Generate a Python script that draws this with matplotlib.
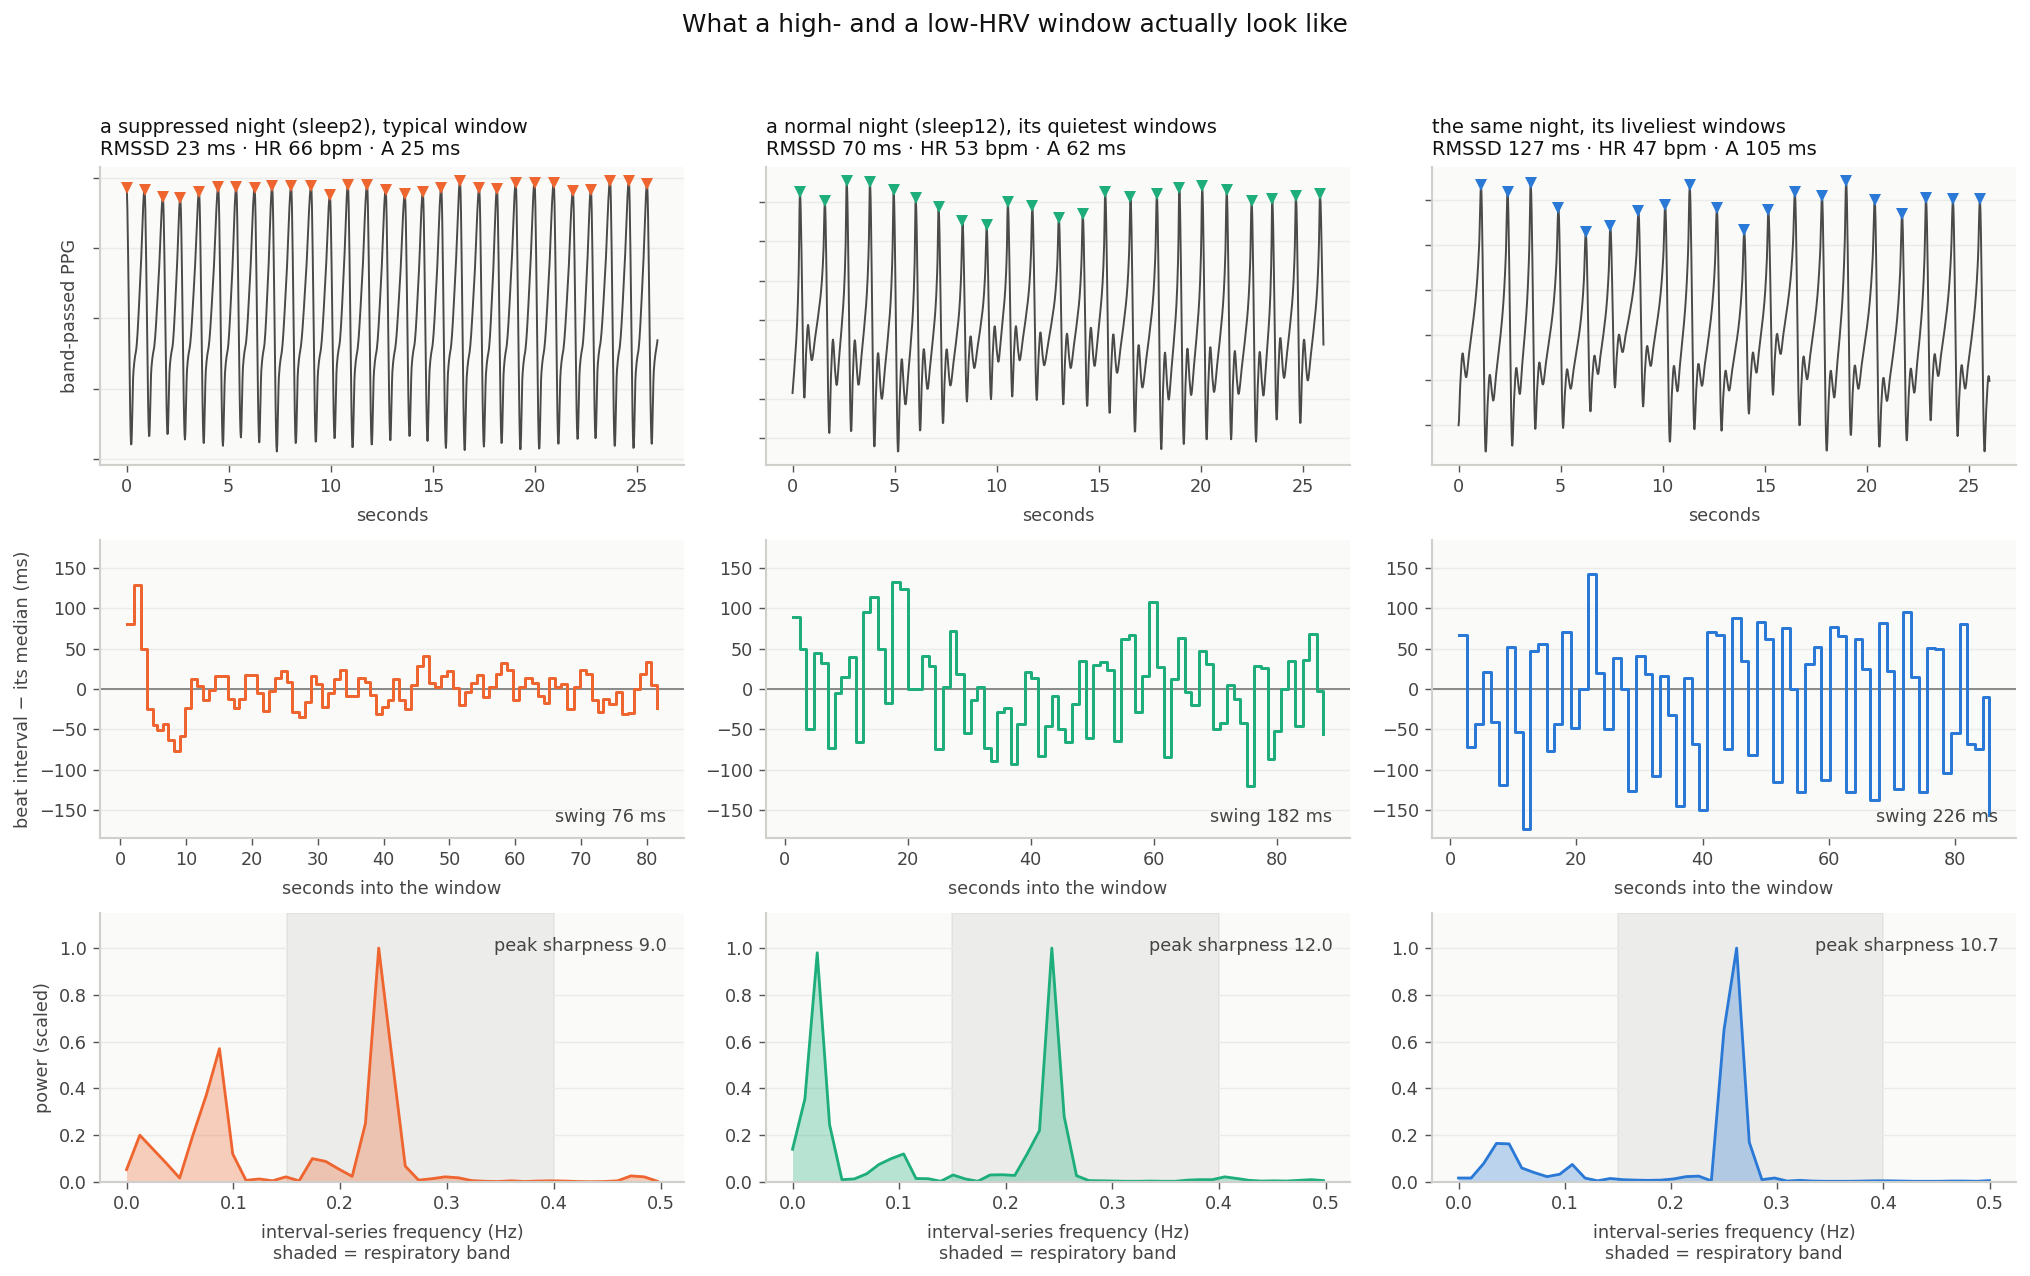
import numpy as np
import matplotlib
matplotlib.use("Agg")
import matplotlib.pyplot as plt
from matplotlib.ticker import MultipleLocator

# ---------------- data ----------------
colors = ["#ef6530", "#1dae7b", "#2a79d6"]
titles = [
    "a suppressed night (sleep2), typical window\nRMSSD 23 ms \u00b7 HR 66 bpm \u00b7 A 25 ms",
    "a normal night (sleep12), its quietest windows\nRMSSD 70 ms \u00b7 HR 53 bpm \u00b7 A 62 ms",
    "the same night, its liveliest windows\nRMSSD 127 ms \u00b7 HR 47 bpm \u00b7 A 105 ms",
]
swing_labels = ["swing 76 ms", "swing 182 ms", "swing 226 ms"]
sharp_labels = ["peak sharpness 9.0", "peak sharpness 12.0", "peak sharpness 10.7"]

# PPG window: detected peaks (time s, height), trough after each peak
ppg1_peak_t = [0.0, 0.88, 1.78, 2.63, 3.55, 4.49, 5.37, 6.27, 7.13, 8.06, 9.04, 9.96, 10.84, 11.78,
               12.69, 13.63, 14.51, 15.41, 16.33, 17.27, 18.14, 19.06, 19.98, 20.92, 21.86, 22.74,
               23.68, 24.60, 25.49]
ppg1_peak_h = [1.86, 1.83, 1.72, 1.71, 1.80, 1.87, 1.87, 1.85, 1.88, 1.88, 1.88, 1.75, 1.90, 1.90,
               1.83, 1.77, 1.80, 1.86, 1.95, 1.85, 1.84, 1.92, 1.93, 1.92, 1.81, 1.83, 1.96, 1.95, 1.91]
ppg1_trough = [-1.81, -1.69, -1.66, -1.72, -1.77, -1.81, -1.69, -1.76, -1.89, -1.79, -1.77, -1.72,
               -1.85, -1.81, -1.73, -1.67, -1.74, -1.84, -1.87, -1.82, -1.79, -1.88, -1.87, -1.80,
               -1.73, -1.72, -1.83, -1.86, -1.78]

ppg2_peak_t = [0.36, 1.58, 2.65, 3.79, 4.95, 6.03, 7.15, 8.32, 9.50, 10.54, 11.74, 13.04, 14.21,
               15.31, 16.55, 17.84, 18.94, 20.06, 21.26, 22.48, 23.49, 24.65, 25.83]
ppg2_peak_h = [3.26, 3.03, 3.55, 3.52, 3.30, 3.10, 2.87, 2.53, 2.41, 3.00, 2.89, 2.61, 2.71, 3.27,
               3.12, 3.20, 3.35, 3.40, 3.30, 3.04, 3.08, 3.16, 3.20]
ppg2_trough = [-1.97, -2.87, -2.86, -3.25, -3.38, -2.84, -2.65, -2.07, -2.01, -1.94, -2.03, -2.14,
               -2.21, -2.39, -2.87, -3.28, -3.15, -3.03, -3.03, -3.09, -2.56, -2.65, -1.20]

ppg3_peak_t = [1.10, 2.40, 3.53, 4.89, 6.23, 7.43, 8.81, 10.12, 11.32, 12.65, 13.99, 15.17, 16.47,
               17.80, 18.98, 20.38, 21.72, 22.89, 24.21, 25.53]
ppg3_peak_h = [3.33, 3.18, 3.39, 2.84, 2.29, 2.44, 2.76, 2.90, 3.33, 2.82, 2.33, 2.79, 3.19, 3.10,
               3.44, 3.01, 2.70, 3.06, 3.02, 3.02]
ppg3_trough = [-2.61, -2.48, -2.08, -2.06, -1.69, -1.16, -1.58, -2.39, -2.11, -2.12, -1.74, -1.32,
               -2.00, -2.59, -2.24, -2.50, -2.36, -1.89, -2.24, -2.58]

# beats just outside the 26 s window (lead-in peak t, h, trough; trailing peak t, h)
ppg_lead = [(-0.91, 1.85, -1.80), (-0.78, 3.20, -4.60), (-0.23, 3.20, -2.00)]
ppg_tail = [(26.60, 1.90), (26.97, 3.20), (26.83, 3.00)]
ppg_end = 26.0

# beat interval minus median (ms), at beat times (s)
ibi1_t = [0.95, 2.1, 3.1, 4.0, 4.9, 5.6, 6.55, 7.3, 8.2, 9.05, 9.9, 10.7, 11.7, 12.6, 13.5, 14.4,
          15.3, 16.3, 17.2, 18.1, 19.0, 19.9, 20.8, 21.7, 22.6, 23.5, 24.4, 25.3, 26.1, 27.1, 28.0,
          28.9, 29.8, 30.7, 31.6, 32.5, 33.4, 34.3, 35.2, 36.1, 37.1, 38.0, 38.8, 39.7, 40.6, 41.5,
          42.4, 43.3, 44.2, 45.1, 46.0, 46.9, 47.8, 48.7, 49.7, 50.6, 51.5, 52.4, 53.3, 54.2, 55.1,
          56.0, 57.0, 57.9, 58.8, 59.7, 60.6, 61.5, 62.5, 63.4, 64.3, 65.2, 66.1, 67.0, 67.9, 68.9,
          69.8, 70.7, 71.6, 72.5, 73.4, 74.3, 75.3, 76.2, 77.1, 78.0, 78.9, 79.8, 80.6, 81.6]
ibi1_v = [80, 128, 49, -25, -45, -51, -43, -63, -77, -58, -24, 12, 4, -14, -1, 16,
          16, -12, -24, -12, 17, 17, -5, -27, -3, 14, 22, 9, -28, -35, -16,
          16, 6, -22, -5, 12, 24, -9, -9, 13, 9, -8, -31, -22, -13, 12,
          -13, -25, 5, 28, 41, 7, 2, 16, 22, 1, -20, -4, 8, 17, -10,
          2, 19, 32, 24, -14, 3, 14, 7, -9, -17, 14, 3, 6, -25, 2,
          23, 18, -13, -28, -12, -18, -4, -31, -30, 0, 19, 33, 5, -23]

ibi2_t = [1.25, 2.4, 3.5, 4.7, 5.8, 7.0, 8.1, 9.2, 10.4, 11.5, 12.7, 13.9, 15.1, 16.25, 17.5,
          18.75, 20.0, 21.15, 22.3, 23.4, 24.5, 25.7, 26.8, 27.9, 29.1, 30.3, 31.3, 32.4, 33.5,
          34.5, 35.6, 36.7, 37.8, 39.0, 40.1, 41.2, 42.3, 43.4, 44.4, 45.6, 46.7, 47.8, 49.0,
          50.1, 51.25, 52.4, 53.5, 54.65, 55.9, 56.9, 58.1, 59.3, 60.5, 61.7, 62.8, 63.9, 65.0,
          66.1, 67.3, 68.5, 69.6, 70.7, 71.9, 73.0, 74.1, 75.1, 76.25, 77.4, 78.5, 79.6, 80.7,
          81.9, 83.0, 84.2, 85.3, 86.5, 87.6]
ibi2_v = [89, 49, -50, 44, 32, -73, -5, 15, 39, -65, 95, 114, 49, -17, 132,
          123, 0, 0, 41, 29, -74, 2, 72, 18, -54, -14, 2, -73, -89,
          -29, -23, -92, -43, 21, 13, -83, -46, -9, -50, -65, -18, 34, -61,
          30, 33, 24, -64, 62, 67, -29, 16, 107, 27, -84, 12, 63, -4,
          -20, 47, 31, -49, -42, 5, -12, -42, -120, 28, 26, -86, -52, 0,
          34, -46, 36, 68, -2, -56]

ibi3_t = [1.33, 2.67, 3.87, 5.2, 6.47, 7.73, 9.0, 10.27, 11.47, 12.67, 14.0, 15.33, 16.47, 17.8,
          19.13, 20.47, 21.8, 23.13, 24.4, 25.87, 27.07, 28.2, 29.47, 30.87, 32.0, 33.27, 34.47,
          35.8, 37.07, 38.33, 39.47, 40.73, 42.07, 43.4, 44.67, 46.07, 47.27, 48.6, 49.93, 51.2,
          52.53, 53.8, 55.0, 56.2, 57.6, 58.73, 60.13, 61.53, 62.67, 64.13, 65.33, 66.53, 67.93,
          69.2, 70.4, 71.73, 73.0, 74.27, 75.6, 76.87, 78.13, 79.4, 80.73, 81.93, 83.2, 84.47, 85.47]
ibi3_v = [67, -72, -43, 21, -41, -119, 52, -53, -173, 47, 55, -77, -43, 71,
          -48, 0, 142, 20, -49, 38, 0, -126, 41, 19, -108, 16, -32,
          -145, 13, -68, -150, 71, 67, -74, 88, 34, -81, 83, 62, -115,
          75, 0, -127, 31, 52, -112, 77, 66, -127, 62, 25, -137, 81,
          22, -123, 95, 15, -127, 51, 50, -104, -54, 80, -68, -74, -10, -155]

# interval-series spectra (scaled power), frequency step per window
spec_df = [0.01242, 0.01158, 0.0119]
spec1 = [0.053, 0.20, 0.14, 0.08, 0.017, 0.20, 0.37, 0.57, 0.12, 0.007,
         0.013, 0.005, 0.022, 0.005, 0.10, 0.088, 0.055, 0.024, 0.25, 1.0,
         0.53, 0.068, 0.008, 0.014, 0.022, 0.018, 0.006, 0.003, 0.002, 0.005,
         0.002, 0.004, 0.005, 0.004, 0.002, 0.001, 0.002, 0.005, 0.026, 0.022, 0.003]
spec2 = [0.14, 0.355, 0.98, 0.245, 0.01, 0.013, 0.035, 0.075, 0.10, 0.12,
         0.015, 0.014, 0.003, 0.03, 0.013, 0.003, 0.03, 0.031, 0.028, 0.12,
         0.22, 1.0, 0.28, 0.027, 0.006, 0.005, 0.004, 0.003, 0.003, 0.004,
         0.003, 0.003, 0.008, 0.01, 0.01, 0.022, 0.015, 0.007, 0.004, 0.005,
         0.004, 0.007, 0.01, 0.006]
spec3 = [0.017, 0.017, 0.08, 0.165, 0.163, 0.06, 0.04, 0.023, 0.033, 0.075,
         0.017, 0.005, 0.015, 0.01, 0.008, 0.007, 0.008, 0.013, 0.023, 0.025,
         0.005, 0.65, 1.0, 0.17, 0.01, 0.017, 0.004, 0.007, 0.004, 0.003,
         0.003, 0.003, 0.004, 0.005, 0.005, 0.004, 0.003, 0.003, 0.003, 0.004,
         0.004, 0.003, 0.006]
resp_band = (0.15, 0.40)

# pulse shape (style): early part in seconds after peak, then rise as fraction of the rest
pulse_early = [
    [(0.0, 1.0), (0.23, 0.0), (0.33, 0.28), (0.40, 0.34), (0.48, 0.38)],
    [(0.0, 1.0), (0.22, 0.0), (0.30, 0.22), (0.40, 0.37), (0.50, 0.25), (0.58, 0.19)],
    [(0.0, 1.0), (0.23, 0.0), (0.32, 0.18), (0.43, 0.30), (0.52, 0.24), (0.60, 0.20)],
]
pulse_rise = [
    [(0.5, 0.66), (1.0, 1.0)],
    [(0.25, 0.30), (0.5, 0.42), (0.75, 0.57), (0.9, 0.75), (1.0, 1.0)],
    [(0.2, 0.30), (0.45, 0.42), (0.7, 0.57), (0.88, 0.76), (1.0, 1.0)],
]


def pchip(x, y, xq):
    x = np.asarray(x, float)
    y = np.asarray(y, float)
    h = np.diff(x)
    d = np.diff(y) / h
    m = np.zeros_like(y)
    for k in range(1, len(x) - 1):
        if d[k - 1] * d[k] > 0:
            w1 = 2 * h[k] + h[k - 1]
            w2 = h[k] + 2 * h[k - 1]
            m[k] = (w1 + w2) / (w1 / d[k - 1] + w2 / d[k])
    m[0] = d[0]
    m[-1] = d[-1]
    idx = np.clip(np.searchsorted(x, xq, side="right") - 1, 0, len(h) - 1)
    s = (xq - x[idx]) / h[idx]
    h00 = 2 * s**3 - 3 * s**2 + 1
    h10 = s**3 - 2 * s**2 + s
    h01 = -2 * s**3 + 3 * s**2
    h11 = s**3 - s**2
    return h00 * y[idx] + h10 * h[idx] * m[idx] + h01 * y[idx + 1] + h11 * h[idx] * m[idx + 1]


def build_wave(peak_t, peak_h, trough_h, early, rise, lead, tail, t_end):
    P_t = [lead[0]] + list(peak_t) + [tail[0]]
    P_h = [lead[1]] + list(peak_h) + [tail[1]]
    TR = [lead[2]] + list(trough_h)
    cx, cy = [], []
    for k in range(len(P_t) - 1):
        t0 = P_t[k]
        T = P_t[k + 1] - t0
        tr = TR[k]
        hn = P_h[k + 1]
        cx.append(t0)
        cy.append(P_h[k])
        for off, lv in early[1:]:
            cx.append(t0 + off)
            cy.append(tr + lv * (hn - tr))
        e_last = early[-1][0]
        rem = T - e_last
        for fr, lv in rise[:-1]:
            cx.append(t0 + e_last + fr * rem)
            cy.append(tr + lv * (hn - tr))
    cx.append(P_t[-1])
    cy.append(P_h[-1])
    t = np.arange(0.0, t_end + 1e-9, 0.02)
    return t, pchip(cx, cy, t)


ppg_sets = [(ppg1_peak_t, ppg1_peak_h, ppg1_trough),
            (ppg2_peak_t, ppg2_peak_h, ppg2_trough),
            (ppg3_peak_t, ppg3_peak_h, ppg3_trough)]
ibi_sets = [(ibi1_t, ibi1_v), (ibi2_t, ibi2_v), (ibi3_t, ibi3_v)]
spec_sets = [spec1, spec2, spec3]

# ---------------- figure ----------------
W, H = 2030, 1276
fig = plt.figure(figsize=(W / 127, H / 127), dpi=127)
fig.patch.set_facecolor("white")

TXT = "#444444"
SPINE = "#cfcfcc"
FACE = "#fafaf8"
GRID = "#ebebe9"

col_left = [100, 766, 1432]
col_w = 584
rows = [(167, 465), (540, 838), (913, 1182)]


def make_ax(c, r):
    top, bot = rows[r]
    ax = fig.add_axes([col_left[c] / W, 1 - bot / H, col_w / W, (bot - top) / H])
    ax.set_facecolor(FACE)
    for s in ("top", "right"):
        ax.spines[s].set_visible(False)
    for s in ("left", "bottom"):
        ax.spines[s].set_color(SPINE)
        ax.spines[s].set_linewidth(1.2)
    ax.tick_params(colors="#555555", labelcolor=TXT, labelsize=10, length=4)
    ax.grid(axis="y", color=GRID, lw=0.8)
    ax.set_axisbelow(True)
    return ax


fig.text(0.5, 1 - 25 / H, "What a high- and a low-HRV window actually look like",
         ha="center", va="center", fontsize=14, color="#111111")

for i in range(3):
    c = colors[i]
    # --- top: PPG ---
    ax = make_ax(i, 0)
    pt, ph, ptr = ppg_sets[i]
    t, y = build_wave(pt, ph, ptr, pulse_early[i], pulse_rise[i], ppg_lead[i], ppg_tail[i], ppg_end)
    ax.plot(t, y, color="#4a4a4a", lw=1.1)
    ax.plot(pt, ph, "v", color=c, ms=6.5, mec="none")
    ax.xaxis.set_major_locator(MultipleLocator(5))
    ax.yaxis.set_major_locator(MultipleLocator(1))
    ax.tick_params(axis="y", labelleft=False)
    ax.set_xlabel("seconds", color=TXT, fontsize=10, labelpad=6)
    ax.set_title(titles[i], loc="left", fontsize=11, color="#111111", pad=7)
    if i == 0:
        ax.set_ylabel("band-passed PPG", color=TXT, fontsize=10, labelpad=8)

    # --- middle: interval series ---
    ax = make_ax(i, 1)
    bt, bv = ibi_sets[i]
    ax.axhline(0, color="#888888", lw=1.1, zorder=1)
    ax.step(bt, bv, where="post", color=c, lw=1.7, zorder=2)
    ax.set_ylim(-184, 184)
    ax.yaxis.set_major_locator(MultipleLocator(50))
    ax.xaxis.set_major_locator(MultipleLocator(10 if i == 0 else 20))
    ax.set_xlabel("seconds into the window", color=TXT, fontsize=10, labelpad=6)
    ax.text(0.97, 0.04, swing_labels[i], transform=ax.transAxes, ha="right", va="bottom",
            fontsize=10, color=TXT)
    if i == 0:
        ax.set_ylabel("beat interval \u2212 its median (ms)", color=TXT, fontsize=10)

    # --- bottom: spectrum ---
    ax = make_ax(i, 2)
    p = np.asarray(spec_sets[i])
    f = np.arange(len(p)) * spec_df[i]
    ax.axvspan(resp_band[0], resp_band[1], color="#8a8a86", alpha=0.12, lw=1, zorder=0.5)
    ax.fill_between(f, 0, p, color=c, alpha=0.3, lw=0, zorder=1)
    ax.plot(f, p, color=c, lw=1.6, zorder=2)
    ax.set_ylim(0, 1.15)
    ax.xaxis.set_major_locator(MultipleLocator(0.1))
    ax.yaxis.set_major_locator(MultipleLocator(0.2))
    ax.set_xlabel("interval-series frequency (Hz)\nshaded = respiratory band", color=TXT,
                  fontsize=10, labelpad=6)
    ax.text(0.97, 0.91, sharp_labels[i], transform=ax.transAxes, ha="right", va="top",
            fontsize=10, color=TXT)
    if i == 0:
        ax.set_ylabel("power (scaled)", color=TXT, fontsize=10)

fig.savefig("out.png", dpi=127, facecolor="white")
